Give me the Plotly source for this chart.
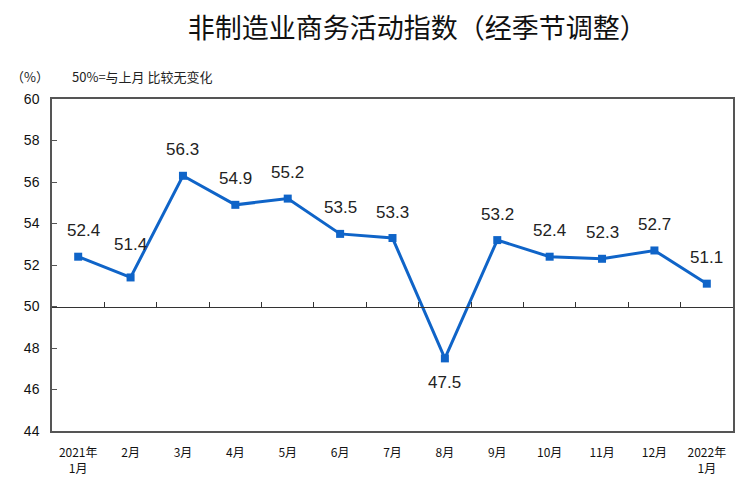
import plotly.graph_objects as go

# 非制造业商务活动指数（经季节调整）
months = ['2021年<br>1月', '2月', '3月', '4月', '5月', '6月', '7月',
          '8月', '9月', '10月', '11月', '12月', '2022年<br>1月']
values = [52.4, 51.4, 56.3, 54.9, 55.2, 53.5, 53.3, 47.5, 53.2, 52.4, 52.3, 52.7, 51.1]

blue = '#0f64c8'
cjk = 'Noto Sans CJK SC'

fig = go.Figure()
fig.add_trace(go.Scatter(
    x=months, y=values,
    mode='lines+markers',
    line=dict(color=blue, width=3),
    marker=dict(symbol='square', size=8, color=blue),
    hoverinfo='x+y',
))
# dummy trace so the 50-line axis has the same categories
fig.add_trace(go.Scatter(
    x=months, y=values, xaxis='x2',
    mode='markers', marker=dict(opacity=0), hoverinfo='skip',
))

for i, (m, v) in enumerate(zip(months, values)):
    shift = 26
    if v < 50:
        shift = -24
    elif i == 1:
        shift = 33  # keep clear of the rising line
    fig.add_annotation(
        x=m, y=v, text=f'{v:.1f}', showarrow=False, yshift=shift,
        xshift=5 if i == 0 else 0,
        font=dict(family='Liberation Sans, Arial', size=17, color='#222222'),
    )

xrange = [-0.5, len(months) - 0.5]

# page body has an 8px margin, so the figure is sized to what is left
fig.update_layout(
    width=731, height=487,
    margin=dict(l=44, r=6, t=91, b=64, autoexpand=False),
    paper_bgcolor='white', plot_bgcolor='white',
    showlegend=False,
    title=dict(text='非制造业商务活动指数（经季节调整）', x=0.56, xanchor='center',
               y=0.958, yanchor='middle',
               font=dict(family=cjk, size=27, color='#111111')),
    xaxis=dict(
        type='category', range=xrange, showgrid=False, zeroline=False, automargin=False,
        showline=True, linecolor='#555555', linewidth=1.5, mirror=True,
        ticks='', ticklabelstandoff=10,
        tickfont=dict(family=cjk, size=12, color='#111111'),
    ),
    xaxis2=dict(
        type='category', range=xrange, overlaying='x', anchor='free', position=0.375,
        showline=True, linecolor='#333333', linewidth=1,
        ticks='inside', tickson='boundaries', ticklen=5, tickcolor='#333333',
        showticklabels=False, showgrid=False, zeroline=False,
    ),
    yaxis=dict(
        range=[44, 60], dtick=2, showgrid=False, zeroline=False, automargin=False,
        showline=True, linecolor='#555555', linewidth=1.5, mirror=True,
        ticks='inside', ticklen=5, tickcolor='#555555',
        ticklabelstandoff=8,
        tickfont=dict(family='Liberation Sans, Arial', size=14, color='#111111'),
    ),
    font=dict(family=cjk),
)

fig.add_annotation(xref='paper', yref='paper', x=-0.032, y=1.069, xanchor='center',
                   yanchor='middle', text='（%）', showarrow=False,
                   font=dict(family=cjk, size=13, color='#222222'))
fig.add_annotation(xref='paper', yref='paper', x=0.026, y=1.069, xanchor='left',
                   yanchor='middle', text='50%=与上月 比较无变化', showarrow=False,
                   font=dict(family=cjk, size=13, color='#222222'))

fig.write_html('out.html')
